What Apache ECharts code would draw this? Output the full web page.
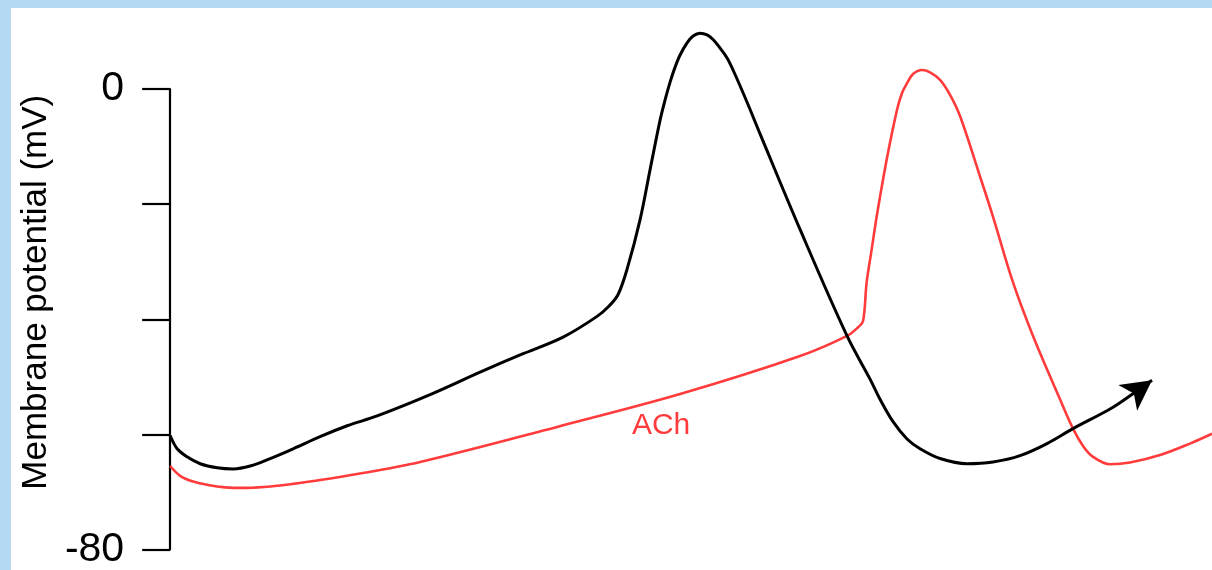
<!DOCTYPE html>
<html>
<head>
<meta charset="utf-8">
<title>Membrane potential</title>
<script src="https://cdn.jsdelivr.net/npm/echarts@6/dist/echarts.min.js"></script>
<style>
  html, body { margin: 0; padding: 0; width: 1212px; height: 570px; overflow: hidden; background: #b5d9f3; }
  #chart { position: absolute; left: 11px; top: 8px; width: 1201px; height: 562px; background: #ffffff; }
</style>
</head>
<body>
<div id="chart"></div>
<script>
// Control action potential (ms, mV)
var timeControl = [0, 3.5, 8.5, 15, 23.5, 31.5, 40, 50, 61.5, 75, 88.5, 103.5, 130, 155, 175, 196.5, 213.5, 219.5, 224, 228.5, 235, 240, 245, 247.5, 250, 252.5, 255, 258.5, 261.5, 265, 268.5, 271.5, 275, 278.5, 281.5, 288.5, 295, 315, 338.5, 350, 355, 361.5, 368.5, 375, 385, 398.5, 411.5, 425, 438.5, 451.5, 468.5, 475, 491];
var vmControl   = [-60.2, -62.5, -63.9, -65.1, -65.8, -66.0, -65.5, -64.2, -62.5, -60.4, -58.5, -56.8, -53.1, -49.2, -46.2, -43.1, -39.5, -37.7, -35.7, -31.3, -22.7, -14.0, -5.4, -1.9, 1.2, 3.8, 5.9, 8.0, 9.2, 9.7, 9.4, 8.6, 7.1, 5.4, 3.3, -2.3, -7.8, -24.4, -42.9, -50.4, -53.9, -57.8, -60.8, -62.5, -64.2, -65.1, -64.8, -63.7, -61.6, -59.0, -55.9, -54.5, -50.6];

// Action potential with acetylcholine (ms, mV)
var timeACh = [0, 5, 11.5, 19, 27.5, 36.5, 61.5, 95, 125, 193.5, 255, 315, 338.5, 344, 346.5, 348.3, 350.8, 353.3, 358.3, 363.5, 366, 368.5, 371.5, 376, 380, 385, 390, 395, 405, 411.5, 421.5, 431.5, 445, 451.5, 456.5, 461.5, 470, 480, 495, 510, 521];
var vmACh   = [-65.5, -67.2, -68.2, -68.8, -69.2, -69.3, -68.6, -66.8, -64.8, -58.7, -53.0, -46.4, -42.9, -41.4, -40.3, -33.6, -27.9, -22.2, -12.3, -3.6, -0.7, 1.0, 2.6, 3.3, 2.9, 1.6, -1.0, -4.7, -15.2, -22.2, -33.6, -42.9, -53.9, -59.0, -62.0, -63.9, -65.2, -64.9, -63.6, -61.6, -59.9];

// Y axis: ticks every 20 mV, only the ends are labelled
var yTicks = [-80, -60, -40, -20, 0];
var yLabelled = [-80, 0];
var achLabel = 'ACh';
var achLabelAt = [245.5, -58.5];

function pairs(t, v) {
  return t.map(function (x, i) { return [x, v[i]]; });
}

var controlData = pairs(timeControl, vmControl);
// arrowhead at the end of the control trace
var last = controlData.pop();
controlData.push({ value: last, symbol: 'arrow', symbolSize: [24, 30], symbolRotate: -54 });

var chart = echarts.init(document.getElementById('chart'), null, { renderer: 'canvas' });
chart.setOption({
  animation: false,
  backgroundColor: '#ffffff',
  grid: { left: 159, top: 81, right: 0, bottom: 19, containLabel: false },
  xAxis: {
    type: 'value', min: 0, max: 521, show: false
  },
  yAxis: {
    type: 'value',
    min: yTicks[0], max: yTicks[yTicks.length - 1], interval: 20,
    name: 'Membrane potential (mV)',
    nameLocation: 'middle',
    nameRotate: 90,
    nameGap: 112,
    nameTextStyle: { fontFamily: 'Liberation Sans', fontSize: 35, color: '#000', padding: [0, 0, 0, 54] },
    axisLine: { show: true, lineStyle: { color: '#000', width: 2.2 } },
    axisTick: { show: true, length: 28, lineStyle: { color: '#000', width: 2.2 } },
    axisLabel: {
      margin: 46,
      fontFamily: 'Liberation Sans', fontSize: 41, color: '#000',
      formatter: function (v) { return yLabelled.indexOf(v) >= 0 ? String(v) : ''; }
    },
    splitLine: { show: false }
  },
  series: [
    {
      name: 'Control',
      type: 'line',
      data: controlData,
      smooth: 0.35,
      clip: false,
      symbol: 'none',
      showAllSymbol: true,
      itemStyle: { color: '#000' },
      lineStyle: { color: '#000', width: 3 },
      z: 3
    },
    {
      name: 'ACh',
      type: 'line',
      data: pairs(timeACh, vmACh),
      smooth: 0.35,
      clip: false,
      symbol: 'none',
      lineStyle: { color: '#ff3b3b', width: 2.6 },
      markPoint: {
        symbol: 'circle', symbolSize: 1,
        itemStyle: { color: 'rgba(0,0,0,0)' },
        label: {
          show: true, position: 'inside', formatter: achLabel,
          fontFamily: 'Liberation Sans', fontSize: 30, color: '#ff3b3b'
        },
        data: [{ coord: achLabelAt }]
      },
      z: 2
    }
  ]
});
</script>
</body>
</html>
